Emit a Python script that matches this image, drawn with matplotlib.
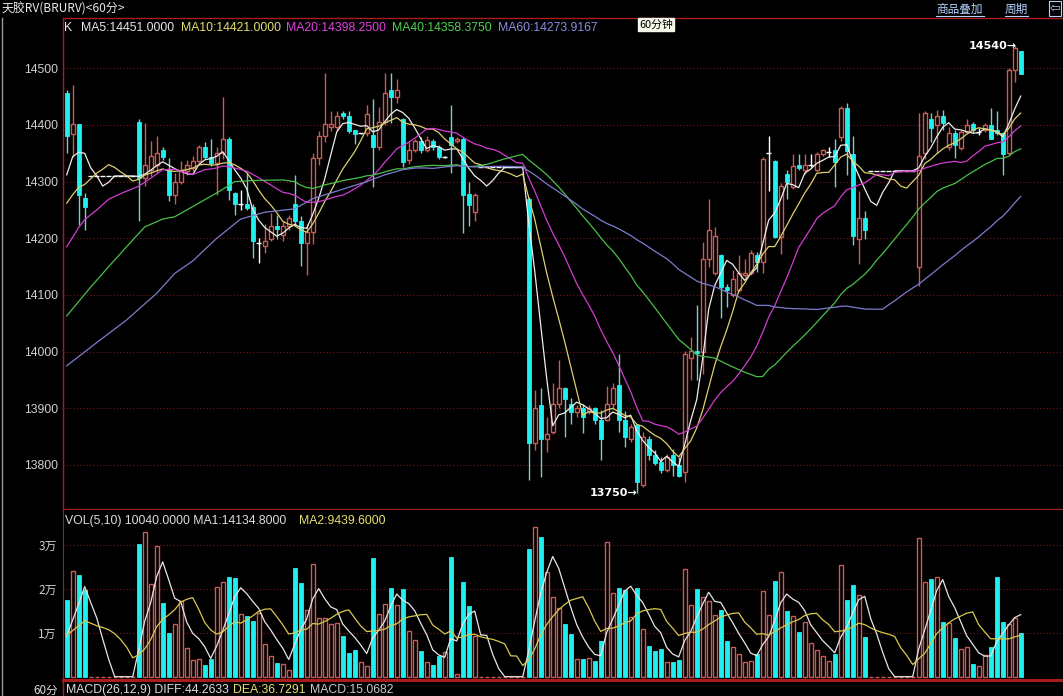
import numpy as np
import matplotlib
matplotlib.use('Agg')
import matplotlib.pyplot as plt
from matplotlib.lines import Line2D

# ---------------- data ----------------
opens = ([14456, 14384, 14401, 14271] + [14310] * 8 +
         [14406, 14306, 14320, 14330, 14356, 14321, 14276, 14300] +
         [14318, 14324, 14336, 14361, 14344, 14333, 14350, 14376, 14280, 14260] +
         [14260, 14256, 14191, 14186, 14199, 14221, 14206, 14221, 14261, 14230] +
         [14191, 14212, 14341, 14380, 14396, 14396, 14421, 14416, 14391, 14385] +
         [14385, 14382, 14361, 14406, 14462, 14450, 14410, 14338, 14356, 14372] +
         [14356, 14372, 14361, 14344, 14379, 14371, 14375, 14279, 14247] + [14325] * 8 +
         [14270, 13839, 13905, 13845, 13858, 13908, 13935, 13908, 13894, 13900] +
         [13896, 13900, 13879, 13880, 13908, 13941, 13879, 13845, 13870, 13765] +
         [13845, 13817, 13805, 13791, 13817, 13800, 13788, 13988, 14002, 13999] +
         [14164, 14139, 14170, 14114, 14100, 14108, 14135, 14139, 14170, 14158] +
         [14350, 14336, 14203, 14314, 14290, 14330, 14320, 14330, 14320, 14349] +
         [14353, 14355, 14378, 14430, 14349, 14199, 14235] + [14319] * 8 +
         [14150, 14350, 14410, 14400, 14416, 14361, 14385, 14359, 14388, 14401] +
         [14388, 14391, 14400, 14392, 14385, 14350, 14497, 14531])

highs = ([14462, 14471, 14401, 14280] + [14310] * 8 +
         [14410, 14403, 14372, 14380, 14362, 14341, 14315, 14336] +
         [14338, 14345, 14365, 14370, 14375, 14361, 14450, 14378, 14282, 14285] +
         [14315, 14260, 14200, 14225, 14245, 14242, 14230, 14242, 14312, 14240] +
         [14225, 14350, 14390, 14491, 14425, 14425, 14425, 14425, 14392, 14386] +
         [14435, 14445, 14432, 14491, 14491, 14482, 14412, 14370, 14376, 14378] +
         [14380, 14375, 14364, 14346, 14435, 14378, 14378, 14300, 14280] + [14325] * 8 +
         [14273, 13932, 13935, 13885, 13944, 13985, 13938, 13918, 13905, 13908] +
         [13905, 13903, 13897, 13940, 13944, 13996, 13896, 13872, 13872, 13858] +
         [13852, 13826, 13814, 13820, 13828, 13814, 14002, 14026, 14082, 14193] +
         [14270, 14220, 14173, 14120, 14144, 14170, 14164, 14180, 14175, 14343] +
         [14381, 14338, 14297, 14320, 14349, 14349, 14349, 14349, 14352, 14357] +
         [14361, 14375, 14434, 14438, 14381, 14284, 14249] + [14319] * 8 +
         [14421, 14425, 14421, 14426, 14426, 14397, 14391, 14391, 14410, 14406] +
         [14394, 14403, 14430, 14424, 14388, 14500, 14540, 14531])

lows = ([14350, 14344, 14224, 14215] + [14310] * 8 +
        [14230, 14292, 14310, 14315, 14338, 14265, 14260, 14295] +
        [14312, 14318, 14330, 14340, 14327, 14277, 14340, 14268, 14242, 14250] +
        [14250, 14165, 14157, 14174, 14195, 14198, 14195, 14215, 14221, 14152] +
        [14136, 14190, 14330, 14370, 14390, 14390, 14410, 14385, 14366, 14384] +
        [14380, 14291, 14355, 14400, 14403, 14438, 14326, 14332, 14353, 14350] +
        [14352, 14355, 14340, 14342, 14315, 14368, 14210, 14221, 14230] + [14325] * 8 +
        [13774, 13826, 13779, 13823, 13855, 13900, 13850, 13873, 13885, 13856] +
        [13890, 13873, 13808, 13878, 13900, 13858, 13832, 13840, 13750, 13762] +
        [13808, 13800, 13785, 13788, 13780, 13779, 13770, 13950, 13950, 13961] +
        [14150, 14135, 14059, 14079, 14097, 14105, 14132, 14135, 14140, 14139] +
        [14284, 14200, 14173, 14270, 14287, 14320, 14314, 14325, 14317, 14345] +
        [14343, 14290, 14372, 14311, 14188, 14155, 14199] + [14319] * 8 +
        [14115, 14340, 14370, 14350, 14391, 14356, 14341, 14356, 14385, 14385] +
        [14382, 14388, 14376, 14382, 14312, 14347, 14476, 14490])

closes = ([14380, 14401, 14276, 14255] + [14310] * 8 +
          [14306, 14330, 14345, 14350, 14344, 14276, 14300, 14321] +
          [14330, 14336, 14361, 14344, 14333, 14350, 14376, 14286, 14260, 14260] +
          [14254, 14195, 14191, 14196, 14221, 14216, 14221, 14236, 14230, 14191] +
          [14211, 14341, 14380, 14401, 14401, 14415, 14415, 14390, 14384, 14385] +
          [14420, 14361, 14406, 14457, 14450, 14462, 14335, 14356, 14372, 14355] +
          [14374, 14361, 14344, 14344, 14365, 14375, 14276, 14259, 14276] + [14325] * 8 +
          [13839, 13900, 13845, 13854, 13908, 13935, 13917, 13894, 13900, 13885] +
          [13900, 13879, 13845, 13908, 13935, 13879, 13850, 13867, 13770, 13850] +
          [13817, 13804, 13791, 13814, 13800, 13780, 13996, 14002, 13998, 14164] +
          [14215, 14204, 14114, 14108, 14129, 14139, 14139, 14174, 14158, 14340] +
          [14350, 14203, 14293, 14299, 14328, 14324, 14330, 14330, 14349, 14355] +
          [14353, 14334, 14430, 14354, 14204, 14235, 14214] + [14319] * 8 +
          [14345, 14421, 14394, 14416, 14404, 14385, 14365, 14387, 14400, 14391] +
          [14388, 14400, 14376, 14385, 14348, 14497, 14535, 14490])

volumes = ([17480, 24090, 23180, 19760] + [0] * 8 +
           [30250, 32900, 21130, 29790, 16720, 9880, 11930, 17250] +
           [6460, 3800, 3950, 2660, 3950, 20520, 21510, 22650, 22420, 14210] +
           [13830, 12690, 14590, 7370, 4710, 3040, 2890, 1520, 24700, 21430] +
           [15200, 25690, 13300, 13300, 12010, 12160, 9270, 5320, 6080, 3270] +
           [2430, 26980, 14210, 16490, 20140, 16340, 19910, 10410, 8360, 5850] +
           [3270, 2660, 4710, 5550, 27210, 530, 21660, 16110, 9270] + [0] * 8 +
           [29110, 34050, 31770, 23940, 18090, 15580, 11930, 9730, 3950, 3950] +
           [4180, 3570, 8130, 30630, 19000, 20140, 19760, 13530, 20140, 10870] +
           [6990, 5850, 6230, 3420, 3270, 3800, 24470, 16340, 19990, 18090] +
           [17250, 14060, 15200, 8130, 6840, 5090, 3270, 3570, 5090, 19530] +
           [14060, 21810, 23790, 14970, 13830, 10260, 12390, 7600, 6080, 4710] +
           [3570, 5170, 25460, 17480, 20900, 18620, 9120] + [0] * 8 +
           [31540, 21510, 22270, 22800, 12540, 12160, 8890, 6310, 6700, 2900] +
           [2450, 4972, 6700, 22700, 12400, 12084, 13450, 10040])

ma5_early_k, ma5_early = [0, 1, 2, 3], [14312, 14344, 14352, 14350]
ma10_early_k, ma10_early = list(range(9)), [14262, 14277, 14290, 14295, 14305, 14315, 14322, 14330, 14325]
ma20_early_k = [0, 2, 3, 5, 7, 9, 12, 14, 16, 18]
ma20_early = [14185, 14219, 14233, 14250, 14269, 14279, 14292, 14306, 14321, 14322]
ma40_early_k = [0, 4, 7, 11, 13, 16, 18, 20, 22, 25, 27, 28, 31, 36, 38]
ma40_early = [14063, 14114, 14150, 14197, 14220, 14234, 14238, 14250, 14262, 14280, 14293, 14300, 14302, 14303, 14300]
ma60_early_k = [0, 5, 10, 15, 18, 21, 25, 29, 33, 38, 41, 44, 47, 50, 53, 56, 58]
ma60_early = [13975, 14016, 14056, 14103, 14138, 14160, 14200, 14234, 14246, 14252, 14270, 14280, 14290, 14300, 14312, 14321, 14324]
vma5_early_k, vma5_early = [0, 1, 2, 3], [9270, 12900, 16600, 20520]
vma10_early_k, vma10_early = list(range(9)), [9500, 10500, 11600, 12700, 12200, 11600, 11200, 10700, 9800]

price_ticks = [13800, 13900, 14000, 14100, 14200, 14300, 14400, 14500]
vol_ticks = [10000, 20000, 30000]
vol_tick_labels = ['1万', '2万', '3万']

title = '天胶RV(BRURV)<60分>'
ma_labels = ['MA5:14451.0000', 'MA10:14421.0000', 'MA20:14398.2500', 'MA40:14358.3750', 'MA60:14273.9167']
high_label, low_label = 14540, 13750
high_idx, low_idx = 158, 95

# ---------------- style ----------------
plt.rcParams['font.family'] = ['Liberation Sans', 'Noto Sans CJK SC', 'DejaVu Sans']
RED = '#cc5a55'
FRAME = '#a81c1c'
GRID = '#7c1616'
CYAN = '#1ef0f0'
CYAN_W = '#84c8c8'
MA_COLORS = ['#eeeeee', '#ddd070', '#d23cd2', '#48c048', '#7c7cd0']

W, H = 1063, 696
fig = plt.figure(figsize=(W / 100, H / 100), dpi=100, facecolor='black')


def fx(px):
    return px / W


def fy(py):
    return 1 - py / H


ax = fig.add_axes([fx(63), fy(509), fx(1063) - fx(63), fy(18) - fy(509)])
axv = fig.add_axes([fx(63), fy(680), fx(1063) - fx(63), fy(510) - fy(680)])

O = np.array(opens, float)
Hh = np.array(highs, float)
L = np.array(lows, float)
C = np.array(closes, float)
V = np.array(volumes, float)
N = len(C)
assert len(O) == len(Hh) == len(L) == len(V) == N
idx = np.arange(N)
up = C > O
dn = C < O
dj = C == O

XLIM = (-0.617, 166.05)

# ---------------- price panel ----------------
ax.set_facecolor('black')
ax.vlines(idx[up], L[up], Hh[up], color=RED, lw=1, zorder=2)
ax.vlines(idx[dn], L[dn], Hh[dn], color=CYAN_W, lw=1, zorder=2)
ax.vlines(idx[dj], L[dj], Hh[dj], color='white', lw=1, zorder=2)
BW = 0.66
ax.bar(idx[up], (C - O)[up], bottom=O[up], width=BW, facecolor='black', edgecolor=RED, lw=1, zorder=3)
ax.bar(idx[dn], (O - C)[dn], bottom=C[dn], width=BW, facecolor=CYAN, edgecolor=CYAN, lw=0.6, zorder=3)
ax.hlines(C[dj], idx[dj] - 0.45, idx[dj] + 0.45, color='white', lw=1, zorder=3)


def moving(x, n, ek, ev):
    full = np.convolve(x, np.ones(n) / n, mode='valid')
    return list(ek) + list(range(n - 1, len(x))), list(ev) + list(full)


for (n, ek, ev), col in zip([(5, ma5_early_k, ma5_early), (10, ma10_early_k, ma10_early),
                             (20, ma20_early_k, ma20_early), (40, ma40_early_k, ma40_early),
                             (60, ma60_early_k, ma60_early)], MA_COLORS):
    xs, ys = moving(C, n, ek, ev)
    ax.plot(xs, ys, color=col, lw=0.9, zorder=4)

ax.set_xlim(*XLIM)
ax.set_ylim(13722.3, 14588.8)
ax.set_yticks(price_ticks)
ax.set_yticklabels([str(t) for t in price_ticks])
ax.tick_params(axis='y', length=0, pad=3.6, colors='#cfcfcf', labelsize=8.8)
ax.set_xticks([])
ax.grid(axis='y', color=GRID, linestyle=(0, (1, 2)), linewidth=0.8)
ax.set_axisbelow(True)
for s in ['top', 'bottom', 'left']:
    ax.spines[s].set_color(FRAME)
    ax.spines[s].set_linewidth(1)
ax.spines['right'].set_visible(False)

lbl_font = ['DejaVu Sans']
ax.text(high_idx + 0.4, high_label, f'{high_label}→', ha='right', va='center', color='white',
        fontsize=8, fontweight='bold', family=lbl_font, zorder=6)
ax.text(low_idx + 0.1, low_label, f'{low_label}→', ha='right', va='center', color='white',
        fontsize=8, fontweight='bold', family=lbl_font, zorder=6)

# ---------------- volume panel ----------------
axv.set_facecolor('black')
vup = C >= O
axv.bar(idx[vup], V[vup], width=BW, facecolor='black', edgecolor=RED, lw=1, zorder=3)
axv.bar(idx[~vup], V[~vup], width=BW, facecolor=CYAN, edgecolor=CYAN, lw=0.6, zorder=3)
for (n, ek, ev), col in zip([(5, vma5_early_k, vma5_early), (10, vma10_early_k, vma10_early)],
                            ['#e6e6e6', '#d8c850']):
    xs, ys = moving(V, n, ek, ev)
    axv.plot(xs, ys, color=col, lw=0.9, zorder=4)
axv.set_xlim(*XLIM)
axv.set_ylim(-752, 37973)
axv.set_yticks(vol_ticks)
axv.set_yticklabels(vol_tick_labels, family=['Noto Sans CJK SC', 'DejaVu Sans'])
axv.tick_params(axis='y', length=0, pad=4.5, colors='#cfcfcf', labelsize=8.5)
axv.set_xticks([])
axv.grid(axis='y', color=GRID, linestyle=(0, (1, 2)), linewidth=0.8)
axv.set_axisbelow(True)
axv.spines['top'].set_visible(False)
axv.spines['right'].set_visible(False)
axv.spines['left'].set_color(FRAME)
axv.spines['bottom'].set_color(FRAME)
axv.spines['bottom'].set_linewidth(2.2)

# ---------------- frame decorations & texts ----------------
fig.add_artist(Line2D([fx(63), fx(63)], [fy(680), fy(696)], color=FRAME, lw=1))
fig.add_artist(Line2D([fx(1.5), fx(1.5)], [fy(18), fy(696)], color='#9a9a9a', lw=1))

cjk = ['Noto Sans CJK SC', 'DejaVu Sans']
fig.text(fx(2), fy(9), title, color='#e8e8e8', fontsize=8.6, va='center', ha='left', family=cjk)
fig.text(fx(64), fy(28), 'K', color='#e8e8e8', fontsize=8.8, va='center', ha='left')
for xpos, lab, col in zip([81, 181, 286, 392, 498], ma_labels,
                          ['#e8e8e8', '#e4e070', '#e040e0', '#50d050', '#8c8ce0']):
    fig.text(fx(xpos), fy(28), lab, color=col, fontsize=8.8, va='center', ha='left')

fig.text(fx(656), fy(24.5), '60分钟', color='black', fontsize=7.8, va='center', ha='center', family=cjk,
         bbox=dict(boxstyle='square,pad=0.12', fc='#f6f6ea', ec='#f6f6ea'))

link_col = '#b4d2ff'
fig.text(fx(936), fy(9), '商品叠加', color=link_col, fontsize=8.4, va='center', ha='left', family=cjk)
fig.add_artist(Line2D([fx(936), fx(984)], [fy(16), fy(16)], color=link_col, lw=0.8))
fig.text(fx(1005), fy(9), '周期', color=link_col, fontsize=8.4, va='center', ha='left', family=cjk)
fig.add_artist(Line2D([fx(1005), fx(1028)], [fy(16), fy(16)], color=link_col, lw=0.8))
fig.text(fx(1050), fy(8.5), '⇦', color=link_col, fontsize=9, va='center', ha='left', family=['DejaVu Sans'],
         bbox=dict(boxstyle='square,pad=0.05', fc='black', ec=link_col, lw=0.8))

fig.text(fx(65), fy(521), 'VOL(5,10) 10040.0000 MA1:14134.8000', color='#dcdcdc', fontsize=8.8,
         va='center', ha='left')
fig.text(fx(299), fy(521), 'MA2:9439.6000', color='#e4e070', fontsize=8.8, va='center', ha='left')

fig.text(fx(58), fy(690), '60分', color='#dcdcdc', fontsize=8.4, va='center', ha='right', family=cjk)
fig.text(fx(66), fy(690), 'MACD(26,12,9) DIFF:44.2633', color='#dcdcdc', fontsize=8.8, va='center', ha='left')
fig.text(fx(233), fy(690), 'DEA:36.7291', color='#e4e070', fontsize=8.8, va='center', ha='left')
fig.text(fx(310), fy(690), 'MACD:15.0682', color='#c8c8c8', fontsize=8.8, va='center', ha='left')

fig.savefig('out.png', dpi=100, facecolor='black')
